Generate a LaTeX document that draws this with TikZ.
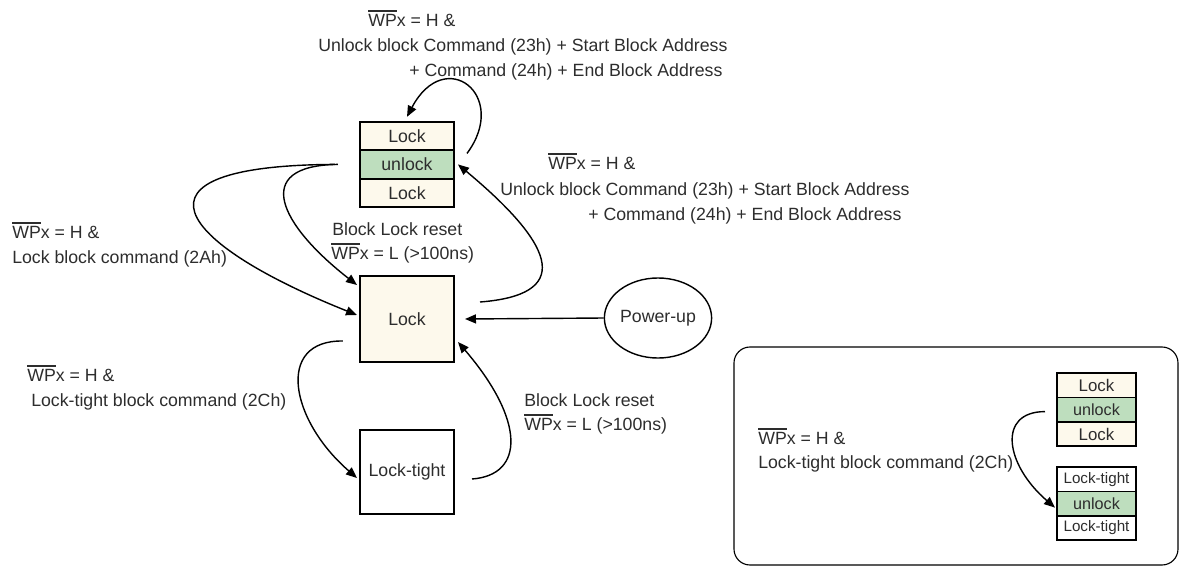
\documentclass[tikz,border=0pt]{standalone}
\usepackage{amsmath}
\usepackage{fontspec}
\setmainfont{Liberation Sans}
\usetikzlibrary{arrows.meta}
\usetikzlibrary{positioning}
\usetikzlibrary{shapes.geometric}

\definecolor{lockfill}{RGB}{253,249,236}
\definecolor{unlockfill}{RGB}{190,222,190}
\definecolor{txt}{RGB}{45,45,45}

\newcommand{\wpbar}{\leavevmode\setbox0\hbox{WP}\rlap{\rule[\dimexpr\ht0+1.3pt\relax]{\wd0}{1.1pt}}\box0x}

\tikzset{
  cell/.style={draw, line width=1.4pt, outer sep=0pt, inner sep=0pt, minimum width=2.35cm, minimum height=0.71cm, text=txt},
  lockcell/.style={cell, fill=lockfill},
  unlockcell/.style={cell, fill=unlockfill},
  tightcell/.style={cell, fill=white},
  small/.style={line width=1.2pt, minimum width=1.975cm, minimum height=0.61cm, font=\fontsize{12}{14}\selectfont},
  lbl/.style={anchor=base west, inner sep=0pt, text=txt},
  arr/.style={-{Triangle[length=7.8pt,width=6.4pt]}, line width=1pt}
}

\begin{document}
\begin{tikzpicture}[x=0.025cm, y=-0.025cm, font=\fontsize{12.6}{15}\selectfont]
          \useasboundingbox (0,0) rectangle (1179,567);
          % top stack
          \node[lockcell] (topA) at (407,136) {Lock};
          \node[unlockcell, below=0pt of topA] (topB) {unlock};
          \node[lockcell, below=0pt of topB] (topC) {Lock};
          % lock
          \node[lockcell, minimum height=2.15cm] (lock) at (407,319) {Lock};
          % lock-tight
          \node[tightcell, minimum height=2.12cm] (tight) at (407,472) {Lock-tight};
          % power-up
          \node[draw, ellipse, line width=1pt, inner sep=0pt, minimum width=2.55cm, minimum height=2cm, text=txt] (pwr) at (658,318) {Power-up};
          % frame on the right
          \draw[line width=0.8pt, rounded corners=0.4cm] (734,347) rectangle (1178,565);
          \node[lockcell, small] (sA) at (1096.5,385.2) {Lock};
          \node[unlockcell, small, font=\fontsize{11.5}{13}\selectfont, below=0pt of sA] (sB) {unlock};
          \node[lockcell, small, below=0pt of sB] (sC) {Lock};
          \node[tightcell, small, font=\fontsize{10.8}{12}\selectfont] (tA) at (1096.5,479.2) {Lock-tight};
          \node[unlockcell, small, font=\fontsize{11.5}{13}\selectfont, below=0pt of tA] (tB) {unlock};
          \node[tightcell, small, font=\fontsize{10.8}{12}\selectfont, below=0pt of tB] (tC) {Lock-tight};
          % labels
          \node[lbl] (topL1) at (368,26) {\wpbar{} = H \&};
          \node[lbl] (topL2) at (318,51) {Unlock block Command (23h) + Start Block Address};
          \node[lbl] (topL3) at (409,76) {+ Command (24h) + End Block Address};
          \node[lbl] (rgtL1) at (548,169) {\wpbar{} = H \&};
          \node[lbl] (rgtL2) at (500,195) {Unlock block Command (23h) + Start Block Address};
          \node[lbl] (rgtL3) at (588,220) {+ Command (24h) + End Block Address};
          \node[lbl] (lftL1) at (12,238) {\wpbar{} = H \&};
          \node[lbl] (lftL2) at (12,263) {Lock block command (2Ah)};
          \node[lbl] (rstL1) at (332,235) {Block Lock reset};
          \node[lbl] (rstL2) at (331,259) {\wpbar{} = L (>100ns)};
          \node[lbl] (lowL1) at (27,381) {\wpbar{} = H \&};
          \node[lbl] (lowL2) at (31,406) {Lock-tight block command (2Ch)};
          \node[lbl] (rs2L1) at (524,406) {Block Lock reset};
          \node[lbl] (rs2L2) at (524,430) {\wpbar{} = L (>100ns)};
          \node[lbl] (frmL1) at (758,444) {\wpbar{} = H \&};
          \node[lbl] (frmL2) at (758,468) {Lock-tight block command (2Ch)};
          % arrows
          \draw[arr] ([shift={(13,-11)}]topB.east) .. controls +(43,-58) and +(38,-72) .. ([shift={(0,-5)}]topA.north);
          \draw[arr] ([shift={(-25,0)}]topB.west) .. controls +(-220,1) and +(-180,-72) .. ([shift={(-3,-4)}]lock.west);
          \draw[arr] ([shift={(-22,0)}]topB.west) .. controls +(-88,1) and +(-77,-60) .. ([shift={(-3,-34)}]lock.west);
          \draw[arr] ([shift={(26,-17)}]lock.east) .. controls +(90,-7) and +(102,85) .. ([shift={(4,0)}]topB.east);
          \draw[arr] (pwr.west) -- ([shift={(11,0)}]lock.east);
          \draw[arr] ([shift={(-17,22)}]lock.west) .. controls +(-68,-1) and +(-67,-58) .. ([shift={(-3,6)}]tight.west);
          \draw[arr] ([shift={(18,7)}]tight.east) .. controls +(53,-4) and +(67,78) .. ([shift={(4,23)}]lock.east);
          \draw[arr] ([shift={(-12,2)}]sB.west) .. controls +(-48,0) and +(-50,-43) .. ([shift={(-2,4)}]tB.west);
        \end{tikzpicture}
\end{document}
